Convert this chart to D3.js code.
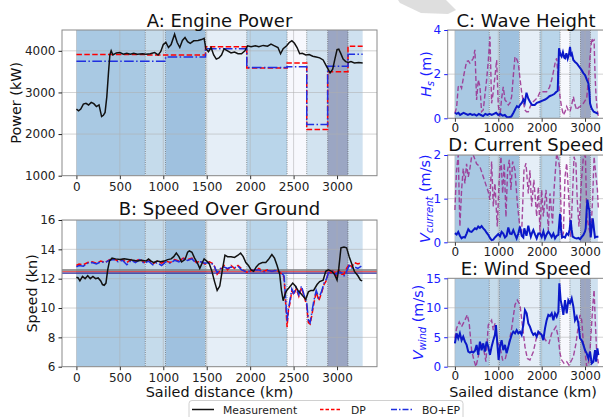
<!DOCTYPE html>
<html>
<head>
<meta charset="utf-8">
<script src="https://cdn.jsdelivr.net/npm/d3@7"></script>
<style>
  body { margin: 0; background: white; }
  svg { display: block; font-family: "DejaVu Sans", sans-serif; }
</style>
</head>
<body>
<div id="chart"></div>
<script>
// ---- data ----
let bandEdges = [0, 793, 1026, 1486, 1961, 2425, 2651, 2892, 3126, 3295];
let bandColors = ["#a9c9e3", "#c5dbeb", "#9fc1df", "#e5eef7", "#b9d5ea", "#f7f8fd", "#d2e3f0", "#9ba6c3", "#cfe1f0"];

let dpPower = [3910, 3900, 3900, 4100, 3590, 3710, 2110, 3500, 4110];
let boepPower = [3750, 3750, 3850, 4050, 3600, 3620, 2230, 3630, 3920];

let powerMeas = [[0,2600],[25,2560],[50,2600],[80,2720],[110,2740],[140,2700],[170,2760],[200,2730],[230,2660],[260,2700],[290,2420],[310,2450],[330,2520],[350,2900],[370,3500],[385,3900],[400,4000],[420,3900],[460,3950],[500,3960],[540,3920],[580,3940],[620,3920],[660,3940],[700,3920],[760,3930],[800,3920],[850,3930],[900,3960],[940,3900],[970,3980],[1000,4150],[1030,4200],[1060,4080],[1090,4150],[1130,4400],[1160,4200],[1190,4080],[1220,4250],[1250,4320],[1280,4220],[1310,4180],[1350,4240],[1400,4250],[1440,4270],[1470,4300],[1490,4050],[1520,3980],[1550,4080],[1580,3900],[1610,3800],[1640,3830],[1670,3900],[1700,4050],[1740,4000],[1780,3950],[1820,3970],[1860,3930],[1900,3930],[1940,4000],[1970,4120],[2010,4100],[2060,4120],[2100,4100],[2150,4130],[2200,4110],[2240,4160],[2280,4120],[2320,4080],[2350,3930],[2380,4050],[2420,4120],[2450,4200],[2480,4240],[2510,4180],[2540,4080],[2570,3930],[2600,3940],[2640,3900],[2680,3910],[2720,3870],[2760,3850],[2800,3830],[2840,3780],[2870,3660],[2900,3550],[2920,3470],[2950,3560],[2975,3800],[3000,4030],[3020,4040],[3040,3950],[3070,3800],[3100,3740],[3130,3720],[3160,3740],[3200,3710],[3250,3720],[3295,3710]];

let speedMeas = [[0,12.1],[20,12.05],[40,11.85],[70,12.15],[100,12.0],[130,12.2],[160,12.0],[190,12.15],[220,12.0],[250,12.05],[280,11.85],[300,11.6],[320,11.55],[340,11.7],[360,12.6],[380,13.2],[410,13.4],[450,13.35],[500,13.3],[550,13.35],[600,13.3],[650,13.25],[700,13.2],[750,13.25],[800,13.2],[830,13.35],[860,13.2],[890,13.1],[930,13.2],[970,13.15],[1010,13.2],[1050,13.3],[1090,13.35],[1120,13.5],[1150,13.75],[1180,13.5],[1210,13.15],[1250,13.3],[1280,13.8],[1300,13.9],[1330,13.8],[1360,13.4],[1390,13.1],[1420,12.7],[1450,13.1],[1470,13.35],[1500,13.2],[1530,13.0],[1560,12.5],[1590,11.8],[1620,11.2],[1650,11.5],[1680,12.6],[1710,13.6],[1740,13.5],[1780,13.5],[1820,13.45],[1860,13.6],[1890,13.75],[1920,13.5],[1950,13.1],[1980,12.9],[2010,12.6],[2040,12.5],[2070,12.8],[2100,13.0],[2140,13.1],[2180,13.1],[2210,13.3],[2250,13.65],[2280,13.4],[2310,12.9],[2340,12.3],[2360,11.2],[2380,10.5],[2400,10.9],[2420,11.2],[2450,11.4],[2490,11.7],[2520,11.5],[2550,11.2],[2580,11.0],[2610,10.8],[2640,10.6],[2670,11.1],[2700,11.2],[2730,11.2],[2770,11.6],[2800,11.8],[2840,11.9],[2870,12.5],[2900,12.6],[2940,12.5],[2970,12.3],[3000,11.9],[3020,12.7],[3045,14.1],[3080,14.15],[3110,14.1],[3140,13.5],[3170,13.0],[3200,12.5],[3240,12.2],[3270,11.9],[3290,11.85]];

let speedDP = [[0,12.9],[30,13.0],[80,12.95],[130,13.1],[180,13.15],[230,13.05],[280,13.2],[330,13.1],[380,13.3],[430,13.35],[480,13.2],[530,13.3],[580,13.1],[630,13.3],[680,13.2],[730,13.35],[780,13.1],[830,13.3],[880,13.0],[930,13.2],[980,13.05],[1030,13.2],[1080,13.1],[1130,13.3],[1180,13.2],[1230,13.4],[1280,13.3],[1330,13.4],[1380,13.1],[1430,13.2],[1480,13.0],[1530,13.15],[1580,13.0],[1620,12.3],[1660,12.6],[1700,12.9],[1740,12.6],[1780,12.9],[1820,12.7],[1860,12.9],[1900,12.7],[1940,12.5],[1980,12.4],[2020,12.6],[2060,12.5],[2100,12.7],[2150,12.5],[2200,12.6],[2250,12.5],[2300,12.6],[2350,12.4],[2390,12.1],[2410,10.2],[2425,8.7],[2440,9.8],[2460,10.4],[2480,11.2],[2500,10.9],[2530,11.3],[2560,10.8],[2590,11.4],[2620,10.8],[2650,10.2],[2670,9.0],[2690,8.9],[2710,9.5],[2730,10.2],[2760,11.1],[2790,10.5],[2820,11.0],[2850,11.6],[2880,11.9],[2900,12.5],[2930,12.4],[2960,12.6],[2990,12.2],[3020,12.6],[3050,12.3],[3080,12.3],[3110,12.7],[3140,13.0],[3170,12.8],[3200,13.1],[3240,13.0],[3280,13.1]];

let speedBO = [[0,12.8],[30,12.9],[80,12.85],[130,13.05],[180,13.1],[230,13.0],[280,13.15],[330,13.1],[380,13.25],[430,13.3],[480,13.15],[530,13.25],[580,12.95],[630,13.25],[680,13.1],[730,13.3],[780,13.05],[830,13.2],[880,12.95],[930,13.1],[980,12.9],[1030,13.15],[1080,13.05],[1130,13.25],[1180,13.15],[1230,13.35],[1280,13.25],[1330,13.35],[1380,13.05],[1430,13.15],[1480,13.05],[1530,13.1],[1580,12.95],[1620,12.4],[1660,12.7],[1700,12.8],[1740,12.7],[1780,12.8],[1820,12.75],[1860,12.85],[1900,12.6],[1940,12.5],[1980,12.5],[2020,12.55],[2060,12.6],[2100,12.6],[2150,12.45],[2200,12.55],[2250,12.5],[2300,12.55],[2350,12.45],[2390,12.2],[2410,10.5],[2425,9.1],[2440,9.9],[2460,10.6],[2480,11.3],[2500,11.0],[2530,11.4],[2560,10.9],[2590,11.5],[2620,10.9],[2650,10.4],[2670,9.2],[2690,9.0],[2710,9.7],[2730,10.4],[2760,11.2],[2790,10.7],[2820,11.1],[2850,11.7],[2880,12.0],[2900,12.4],[2930,12.5],[2960,12.5],[2990,12.3],[3020,12.5],[3050,12.4],[3080,12.2],[3110,12.5],[3140,12.9],[3170,12.7],[3200,12.8],[3240,12.7],[3280,12.85]];

let speedRefs = [12.6, 12.47, 12.38];  // mean measurement, DP, BO+EP

let waveSel = [[0,0.25],[40,0.2],[80,0.25],[120,0.15],[160,0.2],[200,0.25],[250,0.2],[300,0.15],[350,0.2],[400,0.15],[450,0.18],[500,0.12],[550,0.2],[600,0.15],[650,0.1],[700,0.2],[750,0.15],[800,0.2],[850,0.15],[900,0.2],[950,0.25],[1000,0.15],[1050,0.2],[1100,0.12],[1150,0.15],[1200,0.05],[1250,0.05],[1300,0.08],[1350,0.25],[1400,0.45],[1430,0.55],[1470,0.5],[1500,0.6],[1540,0.7],[1580,0.85],[1610,0.7],[1650,1.16],[1690,0.9],[1730,0.75],[1780,0.6],[1840,0.6],[1890,0.7],[1960,0.75],[2020,0.8],[2080,0.85],[2120,0.9],[2180,1.0],[2240,1.05],[2290,1.1],[2340,1.2],[2370,1.25],[2400,3.17],[2430,2.9],[2460,2.8],[2490,3.0],[2520,2.75],[2540,2.72],[2570,2.95],[2600,2.7],[2630,2.9],[2654,3.24],[2680,2.8],[2700,2.9],[2730,2.64],[2770,2.55],[2810,2.49],[2860,2.35],[2920,2.19],[2960,2.05],[3000,1.96],[3040,1.75],[3077,1.58],[3100,1.2],[3115,0.68],[3150,0.45],[3200,0.3],[3270,0.23],[3300,0.2]];

let waveAlt = [[0,0.23],[40,0.5],[77,1.43],[120,1.5],[154,1.36],[210,2.0],[269,2.57],[310,2.6],[346,2.5],[385,2.6],[423,2.72],[462,3.1],[500,0.83],[538,1.74],[577,1.45],[615,0.3],[654,0.38],[700,1.2],[731,1.74],[770,2.6],[808,3.7],[846,0.68],[885,1.2],[923,1.89],[962,2.64],[1000,0.6],[1038,0.08],[1077,0.9],[1115,1.43],[1154,0.83],[1190,0.75],[1231,0.6],[1270,0.7],[1308,0.98],[1350,2.0],[1385,2.79],[1420,2.7],[1462,2.49],[1500,1.8],[1538,1.2],[1580,0.7],[1615,0.38],[1650,0.3],[1692,0.3],[1730,0.5],[1769,0.68],[1830,0.8],[1885,0.9],[1920,1.0],[1962,1.2],[2040,1.2],[2115,1.2],[2180,1.4],[2231,1.74],[2270,2.1],[2308,2.49],[2346,2.72],[2380,1.8],[2423,0.98],[2460,0.5],[2500,0.15],[2540,0.3],[2577,0.53],[2615,0.35],[2654,0.3],[2690,0.6],[2731,0.98],[2770,0.6],[2808,0.38],[2850,0.5],[2885,0.53],[2920,0.6],[2962,0.68],[3000,0.8],[3038,0.9],[3080,1.8],[3115,2.79],[3154,3.62],[3180,3.5],[3208,3.55],[3230,2.0],[3254,0.98],[3280,0.4],[3308,0.08]];

let currentSel = [[0,0.21],[40,0.18],[77,0.24],[115,0.15],[154,0.09],[192,0.12],[231,0.11],[270,0.2],[308,0.3],[346,0.25],[385,0.24],[423,0.28],[462,0.32],[500,0.3],[538,0.36],[577,0.33],[615,0.37],[654,0.32],[692,0.28],[730,0.22],[769,0.17],[808,0.1],[846,0.05],[885,0.06],[923,0.11],[962,0.15],[1000,0.19],[1040,0.14],[1077,0.24],[1115,0.2],[1154,0.11],[1192,0.15],[1231,0.34],[1270,0.2],[1308,0.19],[1346,0.28],[1385,0.18],[1423,0.09],[1462,0.2],[1500,0.36],[1540,0.15],[1577,0.11],[1600,0.32],[1650,0.15],[1692,0.38],[1720,0.25],[1750,0.13],[1780,0.22],[1808,0.28],[1846,0.18],[1885,0.09],[1923,0.2],[1962,0.2],[2000,0.12],[2040,0.25],[2077,0.09],[2115,0.18],[2154,0.25],[2192,0.19],[2230,0.12],[2270,0.2],[2308,0.09],[2346,0.15],[2385,0.17],[2423,0.65],[2445,0.3],[2470,0.11],[2500,0.13],[2538,0.11],[2577,0.2],[2615,0.17],[2645,0.3],[2669,0.51],[2690,0.3],[2715,0.13],[2760,0.1],[2808,0.09],[2850,0.1],[2885,0.07],[2920,0.12],[2962,0.17],[3000,0.25],[3015,0.32],[3035,0.7],[3054,0.98],[3080,0.8],[3100,0.74],[3115,0.4],[3130,0.11],[3150,0.3],[3177,0.55],[3195,0.4],[3208,0.28],[3230,0.11],[3269,0.13],[3308,0.13]];

let currentAlt = [[0,0.74],[38,1.65],[77,2.0],[115,0.36],[154,1.2],[192,1.69],[231,1.35],[269,1.8],[308,1.5],[346,1.69],[385,1.96],[423,2.0],[500,1.8],[577,1.73],[654,1.5],[731,1.27],[769,1.16],[808,0.97],[846,1.85],[885,0.82],[923,1.35],[977,0.36],[1020,1.43],[1062,1.96],[1100,1.12],[1138,1.81],[1177,0.58],[1215,1.65],[1254,1.89],[1292,1.2],[1330,1.85],[1385,1.65],[1440,0.89],[1500,0.32],[1538,0.2],[1592,1.65],[1638,1.81],[1692,1.12],[1730,1.65],[1769,0.82],[1820,1.43],[1885,0.59],[1923,1.27],[1962,0.2],[2000,1.2],[2038,0.59],[2100,1.2],[2154,0.28],[2192,1.12],[2250,0.43],[2290,1.27],[2346,2.04],[2385,1.89],[2423,1.65],[2462,0.13],[2500,0.2],[2538,1.5],[2577,1.81],[2615,1.2],[2669,0.13],[2710,1.05],[2746,1.96],[2790,1.81],[2820,0.97],[2860,0.36],[2923,1.5],[2962,1.96],[3008,2.0],[3040,0.59],[3085,0.36],[3130,0.13],[3177,1.05],[3208,1.96],[3254,1.5],[3285,1.2],[3308,0.74]];

let windSel = [[0,3.96],[38,5.66],[77,4.8],[115,5.66],[154,4.5],[192,5.1],[231,4.25],[270,3.7],[308,2.55],[346,2.4],[385,2.55],[423,2.4],[462,2.7],[500,3.7],[538,2.0],[577,4.25],[615,2.8],[654,3.96],[692,2.55],[730,4.25],[769,3.4],[808,2.0],[846,3.4],[885,4.5],[923,5.4],[946,7.07],[977,3.96],[1008,1.13],[1038,3.4],[1077,4.5],[1115,2.8],[1154,3.7],[1192,2.27],[1231,3.4],[1270,4.5],[1308,5.4],[1346,5.95],[1385,5.66],[1423,6.2],[1462,5.66],[1500,5.95],[1538,5.4],[1577,7.07],[1615,9.6],[1654,9.05],[1692,7.36],[1730,6.8],[1769,5.95],[1808,5.4],[1846,5.66],[1885,5.1],[1923,5.95],[1962,5.66],[2000,5.4],[2038,4.5],[2077,6.5],[2115,7.9],[2154,8.8],[2192,8.6],[2231,9.05],[2270,7.9],[2308,9.05],[2346,8.5],[2385,9.3],[2408,14.15],[2438,11.3],[2470,10.2],[2500,8.8],[2538,11.3],[2577,9.05],[2615,11.3],[2654,10.8],[2692,11.6],[2731,10.2],[2769,7.9],[2808,8.5],[2846,7.36],[2885,4.8],[2923,4.5],[2962,3.7],[3000,2.8],[3038,2.27],[3077,1.42],[3115,2.55],[3154,0.57],[3192,0.85],[3231,2.8],[3254,0.85],[3285,3.1],[3308,1.98]];

let windAlt = [[0,4.8],[38,6.5],[100,7.6],[154,6.8],[231,7.9],[285,8.8],[330,7.36],[385,2.8],[438,1.13],[485,0.0],[538,1.7],[592,3.96],[654,3.4],[715,0.85],[769,7.07],[846,7.9],[885,6.2],[923,7.36],[977,4.25],[1038,3.4],[1100,1.13],[1154,1.13],[1231,3.4],[1308,6.5],[1385,10.5],[1438,11.3],[1500,10.5],[1560,6.8],[1615,3.4],[1669,1.4],[1730,1.13],[1808,2.55],[1885,5.1],[1962,5.66],[2038,5.1],[2115,4.25],[2170,3.96],[2231,5.66],[2280,6.2],[2330,6.8],[2380,5.1],[2423,2.27],[2462,1.13],[2515,0.57],[2577,0.85],[2630,0.28],[2692,1.13],[2731,1.7],[2792,3.96],[2846,7.07],[2885,8.8],[2923,7.9],[2962,3.96],[3000,2.55],[3038,0.0],[3077,0.57],[3115,2.8],[3177,10.2],[3208,13.0],[3238,7.36],[3270,2.27],[3308,0.57]];

let xTicksLeft = [0, 500, 1000, 1500, 2000, 2500, 3000];
let xTicksRight = [0, 1000, 2000, 3000];

// ---- layout ----
let width = 603, height = 417;
let svg = d3.select("#chart").append("svg")
    .attr("width", width)
    .attr("height", height);

svg.append("rect").attr("width", width).attr("height", height).attr("fill", "white");

let xDomain = [-166, 3460];

function make_panel(box, yDomain, xTicks, yTicks, id) {
    let x = d3.scaleLinear().domain(xDomain).range([box.x0, box.x1]);
    let y = d3.scaleLinear().domain(yDomain).range([box.y1, box.y0]);

    svg.append("clipPath").attr("id", id)
        .append("rect")
        .attr("x", box.x0).attr("y", box.y0)
        .attr("width", box.x1 - box.x0).attr("height", box.y1 - box.y0);

    let g = svg.append("g").attr("clip-path", "url(#" + id + ")");

    // shaded legs
    let bands = [];
    for (let i = 0; i < bandColors.length; i++) {
        bands.push({ a: bandEdges[i], b: bandEdges[i + 1], c: bandColors[i] });
    }
    g.selectAll(".band").data(bands).enter().append("rect")
        .attr("x", d => x(d.a))
        .attr("width", d => x(d.b) - x(d.a))
        .attr("y", box.y0)
        .attr("height", box.y1 - box.y0)
        .attr("fill", d => d.c);

    // grid
    g.selectAll(".gx").data(xTicks).enter().append("line")
        .attr("x1", d => x(d)).attr("x2", d => x(d))
        .attr("y1", box.y0).attr("y2", box.y1)
        .attr("stroke", "#b0b0b0").attr("stroke-width", 0.8).attr("opacity", 0.7);
    g.selectAll(".gy").data(yTicks).enter().append("line")
        .attr("x1", box.x0).attr("x2", box.x1)
        .attr("y1", d => y(d)).attr("y2", d => y(d))
        .attr("stroke", "#b0b0b0").attr("stroke-width", 0.8).attr("opacity", 0.7);

    // leg boundaries
    g.selectAll(".edge").data(bandEdges.slice(1, -1)).enter().append("line")
        .attr("x1", d => x(d)).attr("x2", d => x(d))
        .attr("y1", box.y0).attr("y2", box.y1)
        .attr("stroke", "#404040").attr("stroke-width", 0.7)
        .attr("stroke-dasharray", "1,1.2").attr("opacity", 0.8);

    return { x: x, y: y, g: g, box: box };
}

function finish_panel(p, xTicks, yTicks, tickColor, pad) {
    let box = p.box;
    let axisG = svg.append("g");
    axisG.append("rect")
        .attr("x", box.x0).attr("y", box.y0)
        .attr("width", box.x1 - box.x0).attr("height", box.y1 - box.y0)
        .attr("fill", "none").attr("stroke", "#8a8a8a").attr("stroke-width", 1);

    let xa = svg.append("g").attr("transform", "translate(0," + box.y1 + ")")
        .call(d3.axisBottom(p.x).tickValues(xTicks).tickSize(3.5).tickPadding(pad).tickFormat(d3.format("d")));
    xa.select(".domain").remove();
    xa.selectAll("line").attr("stroke", "#333");
    xa.selectAll("text").attr("font-size", "12px").attr("fill", "#222").attr("font-family", "DejaVu Sans");

    let ya = svg.append("g").attr("transform", "translate(" + box.x0 + ",0)")
        .call(d3.axisLeft(p.y).tickValues(yTicks).tickSize(3.5).tickPadding(3).tickFormat(d3.format("d")));
    ya.select(".domain").remove();
    ya.selectAll("line").attr("stroke", tickColor);
    ya.selectAll("text").attr("font-size", "12px").attr("fill", tickColor).attr("font-family", "DejaVu Sans");
}

let line = function(p) {
    return d3.line().x(d => p.x(d[0])).y(d => p.y(d[1]));
};

function steps(values) {
    let pts = [];
    for (let i = 0; i < values.length; i++) {
        pts.push([bandEdges[i], values[i]]);
        pts.push([bandEdges[i + 1], values[i]]);
    }
    return pts;
}

function title(text, cx, y) {
    svg.append("text").attr("x", cx).attr("y", y)
        .attr("text-anchor", "middle").attr("font-size", "18px").attr("fill", "#111")
        .text(text);
}

// ---- A: Engine power ----
let boxA = { x0: 62, x1: 377, y0: 30, y1: 175.7 };
let pA = make_panel(boxA, [1000, 4500], xTicksLeft, [1000, 2000, 3000, 4000], "clipA");
pA.g.append("path").attr("d", line(pA)(steps(dpPower)))
    .attr("fill", "none").attr("stroke", "#ff0000").attr("stroke-width", 1.5)
    .attr("stroke-dasharray", "5.5,2.4");
pA.g.append("path").attr("d", line(pA)(steps(boepPower)))
    .attr("fill", "none").attr("stroke", "#1f2fe0").attr("stroke-width", 1.5)
    .attr("stroke-dasharray", "9.6,2.4,1.5,2.4");
pA.g.append("path").attr("d", line(pA)(powerMeas))
    .attr("fill", "none").attr("stroke", "#111").attr("stroke-width", 1.5);
finish_panel(pA, xTicksLeft, [1000, 2000, 3000, 4000], "#222", 3);
title("A: Engine Power", (boxA.x0 + boxA.x1) / 2, 27);
svg.append("text").attr("transform", "translate(21," + ((boxA.y0 + boxA.y1) / 2) + ") rotate(-90)")
    .attr("text-anchor", "middle").attr("font-size", "14.4px").attr("fill", "#111")
    .text("Power (kW)");

// ---- B: Speed over ground ----
let boxB = { x0: 62, x1: 377, y0: 220, y1: 366.7 };
let pB = make_panel(boxB, [6, 16], xTicksLeft, [6, 8, 10, 12, 14, 16], "clipB");
let refColors = ["#7a7a7a", "#e02828", "#2a2a9a"];
pB.g.selectAll(".ref").data(speedRefs).enter().append("line")
    .attr("x1", boxB.x0).attr("x2", boxB.x1)
    .attr("y1", d => pB.y(d)).attr("y2", d => pB.y(d))
    .attr("stroke", (d, i) => refColors[i]).attr("stroke-width", (d, i) => i == 0 ? 1.5 : 1.1);
pB.g.append("path").attr("d", line(pB)(speedDP))
    .attr("fill", "none").attr("stroke", "#ff0000").attr("stroke-width", 1.5)
    .attr("stroke-dasharray", "5.5,2.4");
pB.g.append("path").attr("d", line(pB)(speedBO))
    .attr("fill", "none").attr("stroke", "#1f2fe0").attr("stroke-width", 1.5)
    .attr("stroke-dasharray", "9.6,2.4,1.5,2.4");
pB.g.append("path").attr("d", line(pB)(speedMeas))
    .attr("fill", "none").attr("stroke", "#111").attr("stroke-width", 1.5);
finish_panel(pB, xTicksLeft, [6, 8, 10, 12, 14, 16], "#222", 3);
title("B: Speed Over Ground", (boxB.x0 + boxB.x1) / 2, 215);
svg.append("text").attr("transform", "translate(37," + ((boxB.y0 + boxB.y1) / 2) + ") rotate(-90)")
    .attr("text-anchor", "middle").attr("font-size", "14.4px").attr("fill", "#111")
    .text("Speed (kn)");
svg.append("text").attr("x", (boxB.x0 + boxB.x1) / 2).attr("y", 396.5)
    .attr("text-anchor", "middle").attr("font-size", "14.4px").attr("fill", "#111")
    .text("Sailed distance (km)");

// ---- right column ----
function weather_panel(box, yDomain, yTicks, id, sel, alt) {
    let p = make_panel(box, yDomain, xTicksRight, yTicks, id);
    p.g.append("path").attr("d", line(p)(alt))
        .attr("fill", "none").attr("stroke", "#9a2c8e").attr("stroke-width", 1.4)
        .attr("stroke-dasharray", "5,2.5").attr("opacity", 0.85);
    p.g.append("path").attr("d", line(p)(sel))
        .attr("fill", "none").attr("stroke", "#0a18c8").attr("stroke-width", 2);
    finish_panel(p, xTicksRight, yTicks, "#1a1aff", 1.5);
    return p;
}

let boxC = { x0: 447.7, x1: 605, y0: 30, y1: 118.3 };
weather_panel(boxC, [0, 4], [0, 2, 4], "clipC", waveSel, waveAlt);
title("C: Wave Height", 526, 27);

let boxD = { x0: 447.7, x1: 605, y0: 155, y1: 242.3 };
weather_panel(boxD, [0, 2], [0, 1, 2], "clipD", currentSel, currentAlt);
title("D: Current Speed", 526, 151);

let boxE = { x0: 447.7, x1: 605, y0: 278.3, y1: 366.7 };
weather_panel(boxE, [0, 15], [0, 5, 10, 15], "clipE", windSel, windAlt);
title("E: Wind Speed", 526, 274.5);
svg.append("text").attr("x", 523).attr("y", 397)
    .attr("text-anchor", "middle").attr("font-size", "14.4px").attr("fill", "#111")
    .text("Sailed distance (km)");

function sub_label(cx, cy, main, sub, rest) {
    let t = svg.append("text")
        .attr("transform", "translate(" + cx + "," + cy + ") rotate(-90)")
        .attr("text-anchor", "middle").attr("font-size", "14.4px").attr("fill", "#1a1aff");
    t.append("tspan").attr("font-style", "italic").text(main);
    t.append("tspan").attr("font-style", "italic").attr("font-size", "10px").attr("dy", 3).text(sub);
    t.append("tspan").attr("dy", -3).text(rest);
}
sub_label(431, (boxC.y0 + boxC.y1) / 2, "H", "s", " (m)");
sub_label(430, (boxD.y0 + boxD.y1) / 2, "V", "current", " (m/s)");
sub_label(423, (boxE.y0 + boxE.y1) / 2, "V", "wind", " (m/s)");

// ---- legend ----
let legendItems = [
    { text: "Measurement", color: "#111", dash: null, x: 192 },
    { text: "DP", color: "#ff0000", dash: "3.5,2", x: 320 },
    { text: "BO+EP", color: "#1f2fe0", dash: "6,2,1.5,2", x: 391 }
];
svg.append("rect").attr("x", 189).attr("y", 400.5).attr("width", 274).attr("height", 22)
    .attr("rx", 3).attr("fill", "white").attr("stroke", "#d0d0d0").attr("stroke-width", 1);
let leg = svg.selectAll(".legend").data(legendItems).enter().append("g");
leg.append("line")
    .attr("x1", d => d.x).attr("x2", d => d.x + 22)
    .attr("y1", 409.5).attr("y2", 409.5)
    .attr("stroke", d => d.color).attr("stroke-width", 1.5)
    .attr("stroke-dasharray", d => d.dash);
leg.append("text")
    .attr("x", d => d.x + 31).attr("y", 413.5)
    .attr("font-size", "10.8px").attr("fill", "#222")
    .text(d => d.text);

// faint grey wedge at the top edge of the picture
svg.append("polygon")
    .attr("points", "398,0 446,0 456,10 448,14 421,13 400,3")
    .attr("fill", "#d8d8d8").attr("opacity", 0.85);
</script>
</body>
</html>
